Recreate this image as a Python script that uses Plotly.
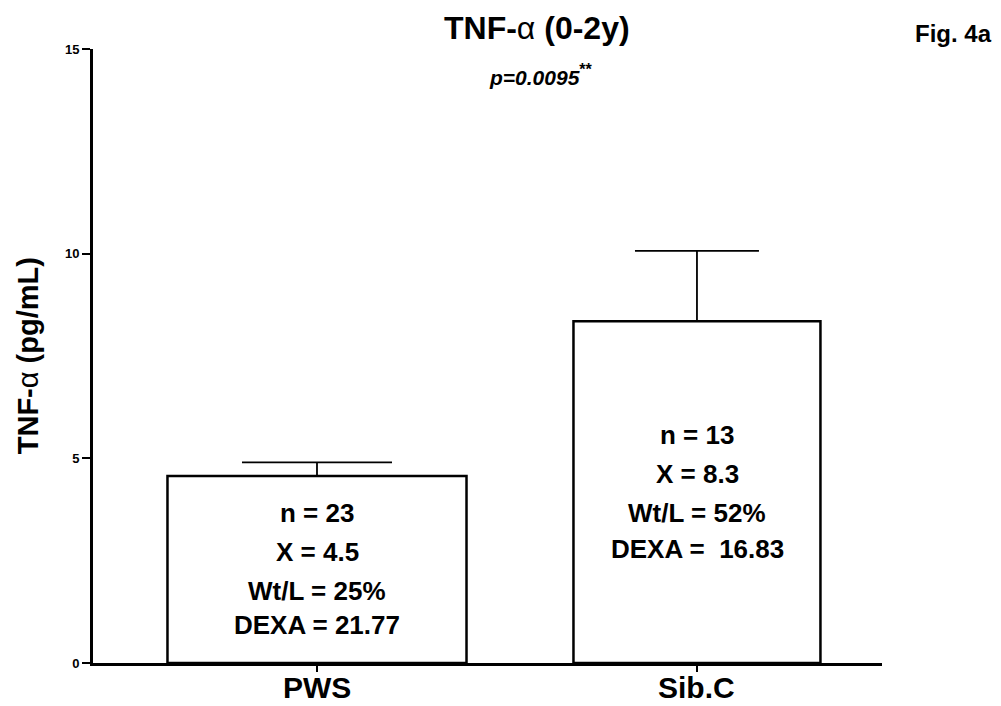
import plotly.graph_objects as go

# ---- data ----
categories = ["PWS", "Sib.C"]
means = [4.57, 8.35]
sem = [0.33, 1.72]
n_values = ["23", "13"]
x_means = ["4.5", "8.3"]
wt_l = ["25%", "52%"]
dexa = ["21.77", "\u00a016.83"]
y_ticks = [0, 5, 10, 15]

# ---- geometry helpers (pixel -> paper) ----
W, H = 1001, 706
L, R, T, B = 93, 882, 48.5, 663
def px(xp, yp):
    return (xp - L) / (R - L), (B - yp) / (B - T)

FONT = "Arial, Liberation Sans, Helvetica, sans-serif"
bar_widths = [0.787, 0.65]
cap_widths = [75, 62]

fig = go.Figure()
for i, cat in enumerate(categories):
    fig.add_trace(go.Bar(
        x=[cat], y=[means[i]], width=[bar_widths[i]],
        marker=dict(color="white", line=dict(color="black", width=2.5)),
        error_y=dict(type="data", symmetric=False, array=[sem[i]], arrayminus=[0],
                     color="black", thickness=1.8, width=cap_widths[i]),
        showlegend=False, hoverinfo="skip",
    ))

annotations = []
def add_text(text, xp, yp, size, **kw):
    xx, yy = px(xp, yp)
    annotations.append(dict(text=text, x=xx, y=yy, xref="paper", yref="paper",
                            xanchor="center", yanchor="middle", showarrow=False,
                            font=dict(family=FONT, size=size, color="black"), **kw))

# in-bar text lines
line_pos = {0: (317, [513, 552, 591, 625]), 1: (697, [435, 474, 513, 549])}
for i in range(len(categories)):
    cx, ys = line_pos[i]
    lines = [f"n = {n_values[i]}", f"X = {x_means[i]}", f"Wt/L = {wt_l[i]}", f"DEXA = {dexa[i]}"]
    for t, yp in zip(lines, ys):
        add_text(f"<b>{t}</b>", cx, yp, 26)

# category labels under the axis (drawn at the category positions)
for cat in categories:
    annotations.append(dict(text=f"<b>{cat}</b>", x=cat, xref="x", y=px(0, 688)[1], yref="paper",
                            xanchor="center", yanchor="middle", showarrow=False,
                            font=dict(family=FONT, size=30, color="black")))

add_text("<b>TNF-</b>α<b> (0-2y)</b>", 537, 27, 32)
add_text("<b><i>p=0.0095</i></b><span style='font-size:23px'><sup><b>**</b></sup></span>", 541, 74, 21)
add_text("<b>Fig. 4a</b>", 954, 33, 24)
add_text("<b>TNF-</b>α<b> (pg/mL)</b>", 28, 356, 29, textangle=-90)

fig.update_layout(
    width=W, height=H,
    margin=dict(l=L, r=W - R, t=T, b=H - B, pad=0, autoexpand=False),
    paper_bgcolor="white", plot_bgcolor="white",
    barmode="overlay",
    annotations=annotations,
    xaxis=dict(type="category", categoryorder="array", categoryarray=categories,
               range=[-0.5895, 1.487], showline=True, linecolor="black", linewidth=3,
               ticks="outside", ticklen=6, tickwidth=2, tickcolor="black",
               showticklabels=False,
               showgrid=False, zeroline=False, fixedrange=True, automargin=False),
    yaxis=dict(range=[0, 15], tickvals=y_ticks, ticktext=[str(v) for v in y_ticks],
               showline=True, linecolor="black", linewidth=3,
               ticks="outside", ticklen=8, tickwidth=2, tickcolor="black",
               tickfont=dict(family=FONT, size=13, color="black", weight="bold"),
               showgrid=False, zeroline=False, fixedrange=True, automargin=False),
)

fig.write_html("out.html")
